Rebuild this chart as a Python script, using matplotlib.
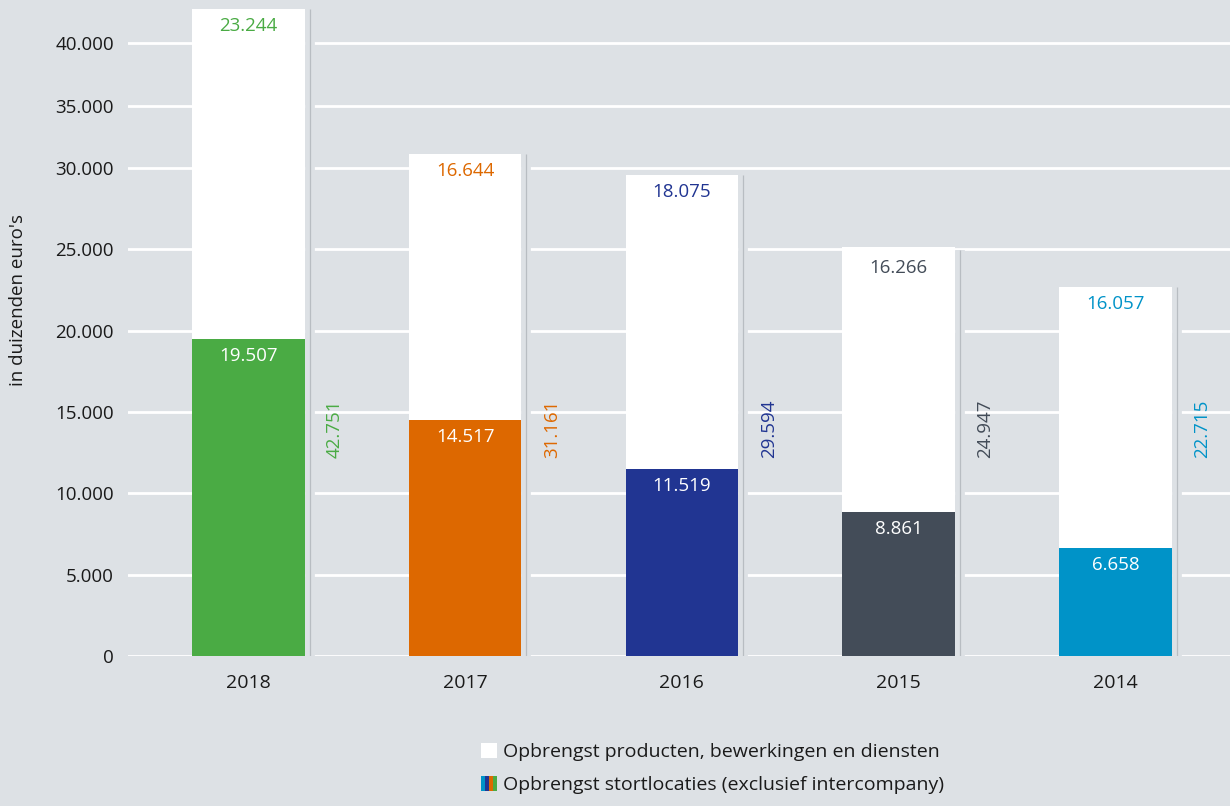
import numpy as np
import matplotlib
matplotlib.use("Agg")
import matplotlib.pyplot as plt
from matplotlib.patches import Patch
from matplotlib.legend_handler import HandlerTuple

# ---- data ----
years = ["2018", "2017", "2016", "2015", "2014"]
stort = [19507, 14517, 11519, 8861, 6658]          # Opbrengst stortlocaties
producten = [23244, 16644, 18075, 16266, 16057]    # Opbrengst producten, bewerkingen en diensten
totals = [42751, 31161, 29594, 24947, 22715]
colors = ["#4aab44", "#dd6800", "#213592", "#434c58", "#0093c8"]
yticks = [0, 5000, 10000, 15000, 20000, 25000, 30000, 35000, 40000]
legend_labels = ["Opbrengst producten, bewerkingen en diensten",
                 "Opbrengst stortlocaties (exclusief intercompany)"]

BG = "#dde1e5"
TXT = "#1a1a1a"
FS = 13.5
plt.rcParams['font.family'] = ['Open Sans', 'DejaVu Sans']

fig = plt.figure(figsize=(12.3, 8.06), dpi=100, facecolor=BG)
ax = fig.add_axes([128/1230, 150/806, 1 - 128/1230, 656/806])
ax.set_facecolor(BG)

# compressed upper part of the axis (as in the original)
C = 0.77
def fwd(y):
    y = np.asarray(y, dtype=float)
    return np.where(y <= 30000, y, 30000 + (y - 30000) * C)

def inv(s):
    s = np.asarray(s, dtype=float)
    return np.where(s <= 30000, s, 30000 + (s - 30000) / C)

ax.set_yscale('function', functions=(fwd, inv))

x = np.arange(len(years))
w = 0.52
ax.bar(x, stort, width=w, color=colors, zorder=3)
ax.bar(x, producten, width=w, bottom=stort, color="white", zorder=3)

# separator lines with gaps in grid
xl = x + 0.283
ax.vlines(xl, 0, totals, colors=BG, lw=7, zorder=2)
ax.vlines(xl, 0, totals, colors="#b8bdc2", lw=0.9, zorder=2.5)

fmt = lambda v: f"{v:,.0f}".replace(",", ".")

for i in range(len(years)):
    ax.annotate(fmt(stort[i]), (x[i], stort[i]), xytext=(0, -12.5), textcoords="offset points",
                ha="center", va="center", color="white", fontsize=FS, zorder=4)
    ax.annotate(fmt(producten[i]), (x[i], totals[i]), xytext=(0, -12.5), textcoords="offset points",
                ha="center", va="center", color=colors[i], fontsize=FS, zorder=4)
    ax.text(x[i] + 0.40, 14000, fmt(totals[i]), rotation=90, ha="center", va="center",
            color=colors[i], fontsize=FS, zorder=4)

ax.set_xlim(-0.555, 4.528)
ax.set_ylim(0, 43434)
ax.set_yticks(yticks)
ax.set_yticklabels([fmt(v) for v in yticks])
ax.set_xticks(x)
ax.set_xticklabels(years)
ax.tick_params(axis='both', length=0, labelsize=FS, colors=TXT)
ax.tick_params(axis='x', labelsize=14)
ax.tick_params(axis='y', pad=10)
ax.tick_params(axis='x', pad=13)
ax.yaxis.grid(True, color="white", lw=2)
ax.set_axisbelow(True)
for s in ax.spines.values():
    s.set_visible(False)

fig.text(18/1230, 1 - 300/806, "in duizenden euro's", rotation=90, ha="center", va="center",
         fontsize=FS, color=TXT)

h1 = Patch(facecolor="white", edgecolor="none")
h2 = tuple(Patch(facecolor=c, edgecolor="none") for c in ["#0093c8", "#213592", "#dd6800", "#4aab44"])
fig.legend([h1, h2], legend_labels, handler_map={tuple: HandlerTuple(ndivide=None, pad=0)},
           loc="upper left", bbox_to_anchor=(481/1230, 1 - 743/806), frameon=False,
           fontsize=14, handlelength=0.82, handleheight=0.82, handletextpad=0.3,
           labelspacing=0.75, borderpad=0, borderaxespad=0, labelcolor=TXT)

fig.savefig("out.png", dpi=100, facecolor=BG)
